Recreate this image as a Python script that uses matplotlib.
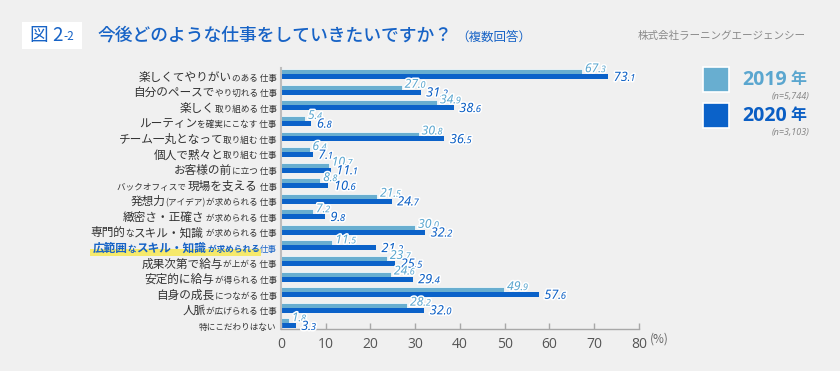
import matplotlib
matplotlib.use("Agg")
import matplotlib.pyplot as plt
import matplotlib.patheffects as pe
from matplotlib.patches import Rectangle
import numpy as np

plt.rcParams['font.family'] = ['Noto Sans CJK JP', 'DejaVu Sans']

# データ（上から順）
labels = [
    [("楽しくてやりがい", "L"), ("のある 仕事", "S")],
    [("自分のペースで", "L"), ("やり切れる 仕事", "S")],
    [("楽しく", "L"), ("取り組める 仕事", "S")],
    [("ルーティン", "L"), ("を確実にこなす 仕事", "S")],
    [("チーム一丸となって", "L"), ("取り組む 仕事", "S")],
    [("個人で黙々と", "L"), ("取り組む 仕事", "S")],
    [("お客様の前", "L"), ("に立つ 仕事", "S")],
    [("バックオフィスで ", "S"), ("現場を支える", "L"), (" 仕事", "S")],
    [("発想力", "L"), ("(アイデア)", "S"), ("が求められる 仕事", "S")],
    [("緻密さ・正確さ", "L"), (" が求められる 仕事", "S")],
    [("専門的", "L"), ("な", "S"), ("スキル・知識", "L"), (" が求められる 仕事", "S")],
    [("広範囲", "L"), ("な", "S"), ("スキル・知識", "L"), (" が求められる", "S"), ("仕事", "S")],
    [("成果次第で給与", "L"), ("が上がる 仕事", "S")],
    [("安定的に給与", "L"), ("が得られる 仕事", "S")],
    [("自身の成長", "L"), ("につながる 仕事", "S")],
    [("人脈", "L"), ("が広げられる 仕事", "S")],
    [("特にこだわりはない", "S")],
]
v2019 = [67.3, 27.0, 34.9, 5.4, 30.8, 6.4, 10.7, 8.8, 21.5, 7.2, 30.0, 11.5, 23.7, 24.6, 49.9, 28.2, 1.8]
v2020 = [73.1, 31.2, 38.6, 6.8, 36.5, 7.1, 11.1, 10.6, 24.7, 9.8, 32.2, 21.2, 25.5, 29.4, 57.6, 32.0, 3.3]
highlight_row = 11
xticks = [0, 10, 20, 30, 40, 50, 60, 70, 80]

c19 = '#68aed0'
c20 = '#0b62c9'
c19_txt = '#5aa6cf'
c20_txt = '#0a5ec4'
blue = '#1763c6'
bg = '#f0f0f0'
DPI = 100

fig = plt.figure(figsize=(8.4, 3.71), dpi=DPI, facecolor=bg)
ax = fig.add_axes([0.3345, 0.114, 0.4262, 0.7035], facecolor=bg)

y = np.arange(len(v2019))
h = 0.32
ax.barh(y - h / 2, v2019, height=h, color=c19, edgecolor='white', linewidth=0.5)
ax.barh(y + h / 2, v2020, height=h, color=c20, edgecolor='none')

ax.set_xlim(0, 80)
ax.set_ylim(16.35, -0.42)
ax.set_xticks(xticks)
ax.set_yticks([])
for s in ['top', 'right']:
    ax.spines[s].set_visible(False)
ax.spines['left'].set_color('#bdbdbd')
ax.spines['left'].set_linewidth(1.5)
ax.spines['bottom'].set_color('#a8a8a8')
ax.spines['bottom'].set_linewidth(1.0)
ax.tick_params(axis='x', direction='in', length=4, width=1, color='#a8a8a8',
               labelsize=10, labelcolor='#555555', pad=6)
for t in ax.get_xticklabels():
    t.set_family(['Open Sans', 'DejaVu Sans'])
ax.text(1.03, -0.04, "(%)", transform=ax.transAxes, fontsize=8.5, color='#666666',
        ha='left', va='center')

renderer = fig.canvas.get_renderer()
ytr = ax.get_yaxis_transform()
halo = [pe.withStroke(linewidth=2.2, foreground='white')]


def width_pt(t):
    return t.get_window_extent(renderer).width * 72.0 / DPI


# 数値ラベル（小数部は小さく）
def value_label(x, yy, val, color, size, weight, dx, dy):
    ip, dp = f"{val:.1f}".split(".")
    t1 = ax.annotate(ip, (x, yy), xytext=(dx, dy),
                     textcoords='offset points', ha='left', va='baseline',
                     fontsize=size, color=color, fontstyle='italic', fontweight=weight,
                     family=['Noto Sans', 'DejaVu Sans'], path_effects=halo)
    off = dx + width_pt(t1)
    ax.annotate("." + dp, (x, yy), xytext=(off, dy), textcoords='offset points',
                ha='left', va='baseline', fontsize=size * 0.75, color=color,
                fontstyle='italic', fontweight=weight,
                family=['Noto Sans', 'DejaVu Sans'], path_effects=halo)


for i in range(len(y)):
    value_label(v2019[i], y[i] - h / 2, v2019[i], c19_txt, 8.8, 'normal', 2, -0.3)
    value_label(v2020[i], y[i] + h / 2, v2020[i], c20_txt, 9.2, 'bold', 4, -3.0)

# カテゴリラベル（サイズ混在）
for i, segs in enumerate(labels):
    off = -3
    hl = (i == highlight_row)
    drawn = []
    for j, (txt, kind) in enumerate(reversed(segs)):
        size = 8.4 if kind == 'L' else 6.2
        color = '#333333'
        weight = 'normal'
        if hl:
            color = blue
            weight = 'bold' if j > 0 else 'normal'
        t = ax.annotate(txt, (0, y[i]), xycoords=ytr, xytext=(off, -4.6),
                        textcoords='offset points', ha='right', va='baseline',
                        fontsize=size, color=color, fontweight=weight, zorder=5)
        off -= width_pt(t)
        if hl and j > 0:
            drawn.append(t)
    if hl:
        bbs = [t.get_window_extent(renderer) for t in drawn]
        x0 = min(b.x0 for b in bbs) - 2
        x1 = max(b.x1 for b in bbs) + 1
        yb = min(b.y0 for b in bbs)
        yt = max(b.y1 for b in bbs)
        fig.patches.append(Rectangle((x0 / (8.4 * DPI), (yb - 1) / (3.71 * DPI)),
                                     (x1 - x0) / (8.4 * DPI), (yt - yb) * 0.55 / (3.71 * DPI),
                                     transform=fig.transFigure, facecolor='#f6e96b',
                                     edgecolor='none', zorder=-1))

# タイトル
fig.patches.append(Rectangle((22 / 840, 1 - 49 / 371), 60 / 840, 27 / 371,
                             transform=fig.transFigure, facecolor='white', edgecolor='none'))
fig.text(30 / 840, 1 - 36 / 371, "図 2", fontsize=13.5, color=blue, va='center', ha='left')
fig.text(63 / 840, 1 - 37 / 371, "-2", fontsize=8.5, color=blue, va='center', ha='left')
fig.text(97 / 840, 1 - 36 / 371, "今後どのような仕事をしていきたいですか？", fontsize=12.8,
         color=blue, va='center', ha='left', fontweight='medium')
fig.text(456 / 840, 1 - 37 / 371, "（複数回答）", fontsize=9, color=blue, va='center', ha='left')
fig.text(806 / 840, 1 - 36 / 371, "株式会社ラーニングエージェンシー", fontsize=7.6,
         color='#8a8a8a', va='center', ha='right')

# 凡例
for (yt, col, yr, n) in [(67, c19, "2019", "(n=5,744)"), (103, c20, "2020", "(n=3,103)")]:
    fig.patches.append(Rectangle((703 / 840, 1 - (yt + 25) / 371), 26 / 840, 25 / 371,
                                 transform=fig.transFigure, facecolor=col,
                                 edgecolor='white', linewidth=1.2))
    tcol = c19_txt if yr == "2019" else c20_txt
    fig.text(742 / 840, 1 - (yt + 13) / 371, yr, fontsize=14, color=tcol, fontweight='bold',
             va='center', ha='left', family=['Open Sans', 'DejaVu Sans'])
    fig.text(790 / 840, 1 - (yt + 12) / 371, "年", fontsize=11.5, color=tcol, fontweight='bold',
             va='center', ha='left')
    fig.text(810 / 840, 1 - (yt + 29) / 371, n, fontsize=6.5, color='#888888',
             fontstyle='italic', va='center', ha='right', family=['Noto Sans', 'DejaVu Sans'])

fig.savefig("out.png", dpi=DPI, facecolor=bg)
plt.close(fig)
